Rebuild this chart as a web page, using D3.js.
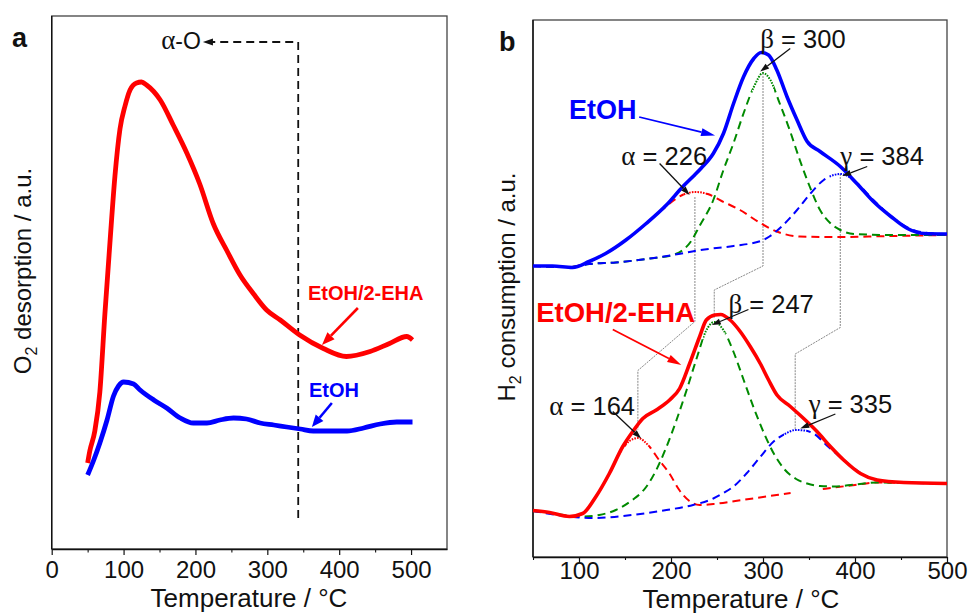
<!DOCTYPE html>
<html>
<head>
<meta charset="utf-8">
<script src="https://cdn.jsdelivr.net/npm/d3@7"></script>
<style>
  body { margin: 0; background: #fff; }
  svg { display: block; }
</style>
</head>
<body>
<svg id="chart" width="971" height="615"></svg>
<script>
// ---------- Panel a: O2-TPD profiles, [temperature °C, signal a.u.] ----------
const o2EHA = [[50,17.2],[53,19.6],[60,23.6],[67,31.4],[74,47],[81,61.2],[88,74.6],[95,84],[102,88.6],[109,91.8],[118,93.2],[125,93.4],[132,92.8],[151,89.8],[169,84.8],[188,79.2],[206,73],[225,65],[244,59.6],[262,54.8],[281,51],[299,47.8],[318,45.8],[345,42.8],[378,40.1],[410,38.5],[443,39.5],[470,41.1],[494,42.5],[502,41.8]];
const o2EtOH = [[50,14.8],[58,17.6],[67,21.2],[77,25.8],[86,30.6],[93,32.6],[100,33.4],[114,33],[123,31.8],[142,29.8],[160,28.2],[179,26.2],[197,25.2],[216,25.2],[234,25.8],[253,26.2],[271,26],[290,25.2],[309,24.8],[327,24.4],[346,24],[364,23.6],[387,23.6],[411,23.6],[434,24.2],[457,25],[480,25.4],[502,25.4]];
const alphaOTemp = 343;           // boundary of the α-O region
const tickLabelsA = [0,100,200,300,400,500];
const minorTicksA = [50,150,250,350,450];

// ---------- Panel b: H2-TPR profiles and fitted components ----------
const h2EtOHTotal = [[50,58.2],[71,58.2],[93,57.9],[111,59.1],[129,60.7],[151,63.4],[173,66.7],[195,70.4],[213,74.1],[224,76.1],[233,77.8],[246,80.7],[257,84.7],[268,90.7],[279,96.1],[290,99.7],[298,100.9],[306,100.4],[315,97.4],[326,92.1],[337,87.4],[348,83.1],[362,81.1],[384,78.1],[402,74.7],[420,71.1],[439,68.1],[457,65.7],[475,64.7],[500,64.6]];
const h2EtOHAlpha = [[50,58.2],[90,58],[110,59],[130,60.8],[150,63.2],[170,66.2],[190,69.4],[205,71.6],[215,72.6],[226,73],[240,72.6],[255,71.2],[275,69.4],[297,66.8],[315,65.1],[340,64.1],[380,64],[440,64.2],[500,64.4]];
const h2EtOHBeta = [[50,58.2],[90,58],[111,58.6],[140,58.9],[177,59.7],[202,60.4],[213,61.4],[222,63.2],[231,66.2],[246,71.4],[257,77.4],[268,82.8],[279,88.8],[290,94],[300,96.8],[308,95.4],[318,90.8],[329,85.4],[340,79.4],[351,74],[362,69.4],[373,66.8],[384,65.4],[399,64.6],[440,64.4],[500,64.4]];
const h2EtOHGamma = [[50,58.2],[90,58],[111,58.6],[140,58.9],[177,59.7],[202,60.4],[232,61.4],[268,62.2],[299,63.3],[307,64.1],[322,66.4],[337,69.4],[352,72.8],[366,75.4],[377,76.4],[384,76.6],[393,76.1],[402,74.8],[420,71.4],[439,68.2],[457,65.9],[475,64.9],[500,64.6]];

const h2EHATotal = [[50,9.3],[68,8.9],[89.5,8.1],[104,8.7],[118.5,12.1],[133,16.7],[147.6,22.1],[158.5,25.1],[169.4,27.7],[184,29.4],[198.5,31.4],[209.4,33.7],[220.3,38.7],[231.2,44.1],[238.4,47.4],[247.6,48.4],[254,48.5],[264.3,47.4],[275.2,45.1],[286.1,42.1],[297,38.7],[306.1,35.4],[315.2,32.4],[329.7,30.1],[344.2,27.7],[358.7,25.1],[373.2,22.1],[387.7,19.4],[405.9,16.7],[424.1,15.4],[453.1,14.9],[500,14.7]];
const h2EHAAlpha = [[50,9.2],[70,8.8],[90,8.1],[104,8.7],[118,12],[133,16.6],[145,21],[155,23.2],[164,23.8],[176,22.2],[187,19.4],[198,16.8],[209,13.4],[220,11.2],[231,10.4],[246,10.6],[270,11.2],[300,12],[330,12.8],[345,null],[365,13.6],[400,14.4],[424,14.9],[460,14.8],[500,14.8]];
const h2EHABeta = [[50,9.2],[70,8.8],[90,8.2],[104,8.1],[122,8.4],[140,9.4],[158,11.4],[173,14],[184,17.4],[195,22],[206,27.4],[217,33.4],[228,39.8],[238,45.2],[247,47],[257,45.4],[268,41],[279,35.4],[290,29.8],[301,24.8],[312,20.6],[324,17.4],[336,15.6],[348,14.7],[362,14.2],[377,14.1],[400,14.5],[424,14.9],[460,14.8],[500,14.8]];
const h2EHAGamma = [[50,9.2],[90,8.1],[115,7.8],[158,8.4],[195,9.4],[224,10.4],[246,11.7],[257,12.8],[268,14.1],[282,16.7],[297,20],[311,23],[326,24.8],[335,25.4],[345,25.3],[355,24.7],[370,22.2],[388,19.4],[406,16.8],[424,15.4],[453,14.9],[500,14.7]];

const peakNames = ['α','β','γ'];
const peaksEtOH = [226, 300, 384];   // fitted peak maxima, °C
const peaksEHA  = [164, 247, 335];
// signal levels of the connector lines between matching peaks:
// [upper start, upper bend, lower bend, lower end]
const connectorLevels = [[72,47.1,37.3,25.5],[96.8,58.2,53.4,47.8],[76.6,45.9,40.6,25.5]];
const tickLabelsB = [100,200,300,400,500];
const minorTicksB = [50,150,250,350,450];

// ---------- layout ----------
const FONT = '"Liberation Sans", Arial, Helvetica, sans-serif';
const GREEK = '"Liberation Serif", "Times New Roman", serif';
const RED = '#ff0000', BLUE = '#0000ff', GREEN = '#008a00', GREY = '#7a7a7a';

const svg = d3.select('#chart').style('font-family', FONT);
const defs = svg.append('defs');

const boxA = {left: 51.7, right: 447, top: 16, bottom: 549};
const boxB = {left: 533, right: 947, top: 20, bottom: 557};

const xA = d3.scaleLinear().domain([0, 550]).range([boxA.left, boxA.right]);
const yA = d3.scaleLinear().domain([0, 106.6]).range([boxA.bottom, boxA.top]);
const xB = d3.scaleLinear().domain([50, 500]).range([boxB.left, boxB.right]);
const yB = d3.scaleLinear().domain([0, 107.4]).range([boxB.bottom, boxB.top]);

function arrow(g, x1, y1, x2, y2, color, width, headLen, headW) {
  const a = Math.atan2(y2 - y1, x2 - x1);
  const bx = x2 - headLen * Math.cos(a), by = y2 - headLen * Math.sin(a);
  g.append('line').attr('x1', x1).attr('y1', y1).attr('x2', bx).attr('y2', by)
    .attr('stroke', color).attr('stroke-width', width);
  const px = -Math.sin(a) * headW / 2, py = Math.cos(a) * headW / 2;
  g.append('polygon')
    .attr('points', `${x2},${y2} ${bx + px},${by + py} ${bx - px},${by - py}`)
    .attr('fill', color);
}

function frame(box, x, major, minor, tickLen, pad) {
  svg.append('rect')
    .attr('x', box.left).attr('y', box.top)
    .attr('width', box.right - box.left).attr('height', box.bottom - box.top)
    .attr('fill', 'none').attr('stroke', '#444').attr('stroke-width', 1.3);
  svg.append('line').attr('x1', box.left).attr('x2', box.left)
    .attr('y1', box.top).attr('y2', box.bottom).attr('stroke', '#111').attr('stroke-width', 1.4);
  const gMaj = svg.append('g').attr('transform', `translate(0,${box.bottom})`)
    .call(d3.axisBottom(x).tickValues(major).tickSize(tickLen).tickSizeOuter(0)
      .tickPadding(pad).tickFormat(d3.format('d')));
  gMaj.select('.domain').attr('stroke', '#111').attr('stroke-width', 1.4);
  gMaj.selectAll('.tick line').attr('stroke', '#111').attr('stroke-width', 1.2);
  gMaj.selectAll('.tick text').attr('font-family', FONT).attr('font-size', 24).attr('fill', '#111');
  const gMin = svg.append('g').attr('transform', `translate(0,${box.bottom})`)
    .call(d3.axisBottom(x).tickValues(minor).tickSize(tickLen * 0.6).tickSizeOuter(0).tickFormat(''));
  gMin.select('.domain').remove();
  gMin.selectAll('.tick line').attr('stroke', '#111').attr('stroke-width', 1.1);
}

function yTitle(cx, cy, main, rest) {
  const t = svg.append('text')
    .attr('transform', `translate(${cx},${cy}) rotate(-90)`)
    .attr('text-anchor', 'middle').attr('font-size', 24).attr('fill', '#111');
  t.append('tspan').text(main);
  t.append('tspan').attr('font-size', 16).attr('dy', 6).text('2');
  t.append('tspan').attr('dy', -6).text(rest);
}

// ======================= Panel a =======================
frame(boxA, xA, tickLabelsA, minorTicksA, 6, 6);
svg.append('text').attr('x', 249).attr('y', 607)
  .attr('text-anchor', 'middle').attr('font-size', 26).attr('fill', '#111')
  .text('Temperature / °C');
yTitle(31, 271, 'O', ' desorption / a.u.');
svg.append('text').attr('x', 12).attr('y', 47).attr('font-size', 27)
  .attr('font-weight', 'bold').attr('fill', '#111').text('a');

const lineA = d3.line().x(d => xA(d[0])).y(d => yA(d[1])).curve(d3.curveMonotoneX);
const gA = svg.append('g');

// α-O boundary: dashed drop line with arrow towards the label
const aoLevel = 101.4, aoTip = 210.4;
gA.append('path')
  .attr('d', `M${xA(alphaOTemp)},${yA(6.2)} V${yA(aoLevel)} H${xA(aoTip) + 9}`)
  .attr('fill', 'none').attr('stroke', '#111').attr('stroke-width', 1.8)
  .attr('stroke-dasharray', '8,5');
arrow(gA, xA(aoTip) + 10, yA(aoLevel), xA(aoTip), yA(aoLevel), '#111', 1.8, 10, 7);
const aoText = gA.append('text').attr('x', xA(aoTip) - 2).attr('y', yA(aoLevel) + 7)
  .attr('text-anchor', 'end').attr('font-size', 23).attr('fill', '#111');
aoText.append('tspan').attr('font-family', GREEK).attr('font-size', 27).text('α');
aoText.append('tspan').text('-O');

gA.append('path').datum(o2EHA).attr('d', lineA)
  .attr('fill', 'none').attr('stroke', RED).attr('stroke-width', 4.8).attr('stroke-linejoin', 'round');
gA.append('path').datum(o2EtOH).attr('d', lineA)
  .attr('fill', 'none').attr('stroke', BLUE).attr('stroke-width', 4.8).attr('stroke-linejoin', 'round');

gA.append('text').attr('x', xA(356.5)).attr('y', yA(49.8)).attr('font-size', 20)
  .attr('font-weight', 'bold').attr('fill', RED).text('EtOH/2-EHA');
arrow(gA, xA(426), yA(48.2), xA(376), yA(40.8), RED, 2.6, 13, 10);
gA.append('text').attr('x', xA(357.9)).attr('y', yA(30.4)).attr('font-size', 20)
  .attr('font-weight', 'bold').attr('fill', BLUE).text('EtOH');
arrow(gA, xA(389.8), yA(29.2), xA(362), yA(24.4), BLUE, 2.6, 12, 10);

// ======================= Panel b =======================
frame(boxB, xB, tickLabelsB, minorTicksB, 5, 0);
svg.append('text').attr('x', 741).attr('y', 608)
  .attr('text-anchor', 'middle').attr('font-size', 26).attr('fill', '#111')
  .text('Temperature / °C');
yTitle(515, 287, 'H', ' consumption / a.u.');
svg.append('text').attr('x', 499).attr('y', 51).attr('font-size', 27)
  .attr('font-weight', 'bold').attr('fill', '#111').text('b');

const lineB = d3.line().defined(d => d[1] != null)
  .x(d => xB(d[0])).y(d => yB(d[1])).curve(d3.curveMonotoneX);
const gB = svg.append('g');

// connectors between matching peaks of the two samples
connectorLevels.forEach((lv, i) => {
  const pts = [[peaksEtOH[i], lv[0]], [peaksEtOH[i], lv[1]], [peaksEHA[i], lv[2]], [peaksEHA[i], lv[3]]];
  gB.append('path').datum(pts)
    .attr('d', d3.line().x(d => xB(d[0])).y(d => yB(d[1])))
    .attr('fill', 'none').attr('stroke', GREY).attr('stroke-width', 0.9)
    .attr('stroke-dasharray', '2,1');
});

// fitted component: dotted around its maximum, dashed elsewhere
let clipId = 0;
function component(data, centre, color) {
  const id = 'clip' + (clipId++);
  const half = 12;
  const inner = defs.append('clipPath').attr('id', id + 'in');
  inner.append('rect').attr('x', xB(centre - half)).attr('y', 0)
    .attr('width', xB(centre + half) - xB(centre - half)).attr('height', 615);
  const outer = defs.append('clipPath').attr('id', id + 'out');
  outer.append('rect').attr('x', 0).attr('y', 0).attr('width', xB(centre - half)).attr('height', 615);
  outer.append('rect').attr('x', xB(centre + half)).attr('y', 0).attr('width', 971).attr('height', 615);
  gB.append('path').datum(data).attr('d', lineB)
    .attr('clip-path', `url(#${id}out)`)
    .attr('fill', 'none').attr('stroke', color).attr('stroke-width', 2)
    .attr('stroke-dasharray', '8,5');
  gB.append('path').datum(data).attr('d', lineB)
    .attr('clip-path', `url(#${id}in)`)
    .attr('fill', 'none').attr('stroke', color).attr('stroke-width', 2)
    .attr('stroke-dasharray', '1.6,1.2');
}

component(h2EtOHAlpha, peaksEtOH[0], RED);
component(h2EtOHBeta, peaksEtOH[1], GREEN);
component(h2EtOHGamma, peaksEtOH[2], BLUE);
component(h2EHAAlpha, peaksEHA[0], RED);
component(h2EHABeta, peaksEHA[1], GREEN);
component(h2EHAGamma, peaksEHA[2], BLUE);

gB.append('path').datum(h2EtOHTotal).attr('d', lineB)
  .attr('fill', 'none').attr('stroke', BLUE).attr('stroke-width', 3.6).attr('stroke-linejoin', 'round');
gB.append('path').datum(h2EHATotal).attr('d', lineB)
  .attr('fill', 'none').attr('stroke', RED).attr('stroke-width', 3.6).attr('stroke-linejoin', 'round');

// peak labels with pointers
const labelPos = {
  EtOH: [[146,78.4, 187.6,78.7, 220.3,72.4],[297,101.8, 329.6,101.7, 297,97.1],[384.1,78.4, 413.3,78.1, 386,76.2]],
  EHA:  [[67.7,28.4, 136.7,29.1, 167.6,23.7],[262.4,48.8, 284.2,49.5, 244.3,46.4],[349.6,28.8, 378.7,28.6, 340.5,25.7]]
};
function peakLabel(name, value, p) {
  const t = gB.append('text').attr('x', xB(p[0])).attr('y', yB(p[1]))
    .attr('font-size', 25.5).attr('fill', '#111');
  t.append('tspan').attr('font-family', GREEK).attr('font-size', 27).text(name);
  t.append('tspan').text(' = ' + value);
  arrow(gB, xB(p[2]), yB(p[3]), xB(p[4]), yB(p[5]), '#111', 1.3, 9, 6);
}
peaksEtOH.forEach((c, i) => peakLabel(peakNames[i], c, labelPos.EtOH[i]));
peaksEHA.forEach((c, i) => peakLabel(peakNames[i], c, labelPos.EHA[i]));

// sample labels
gB.append('text').attr('x', xB(89.1)).attr('y', yB(87.6)).attr('font-size', 27)
  .attr('font-weight', 'bold').attr('fill', BLUE).text('EtOH');
arrow(gB, xB(165.4), yB(88), xB(247.9), yB(84.3), BLUE, 1.8, 14, 8);
gB.append('text').attr('x', xB(53.4)).attr('y', yB(47)).attr('font-size', 27.5)
  .attr('font-weight', 'bold').attr('fill', RED).text('EtOH/2-EHA');
arrow(gB, xB(136.7), yB(45.5), xB(211.2), yB(38.4), RED, 1.8, 14, 8);
</script>
</body>
</html>
